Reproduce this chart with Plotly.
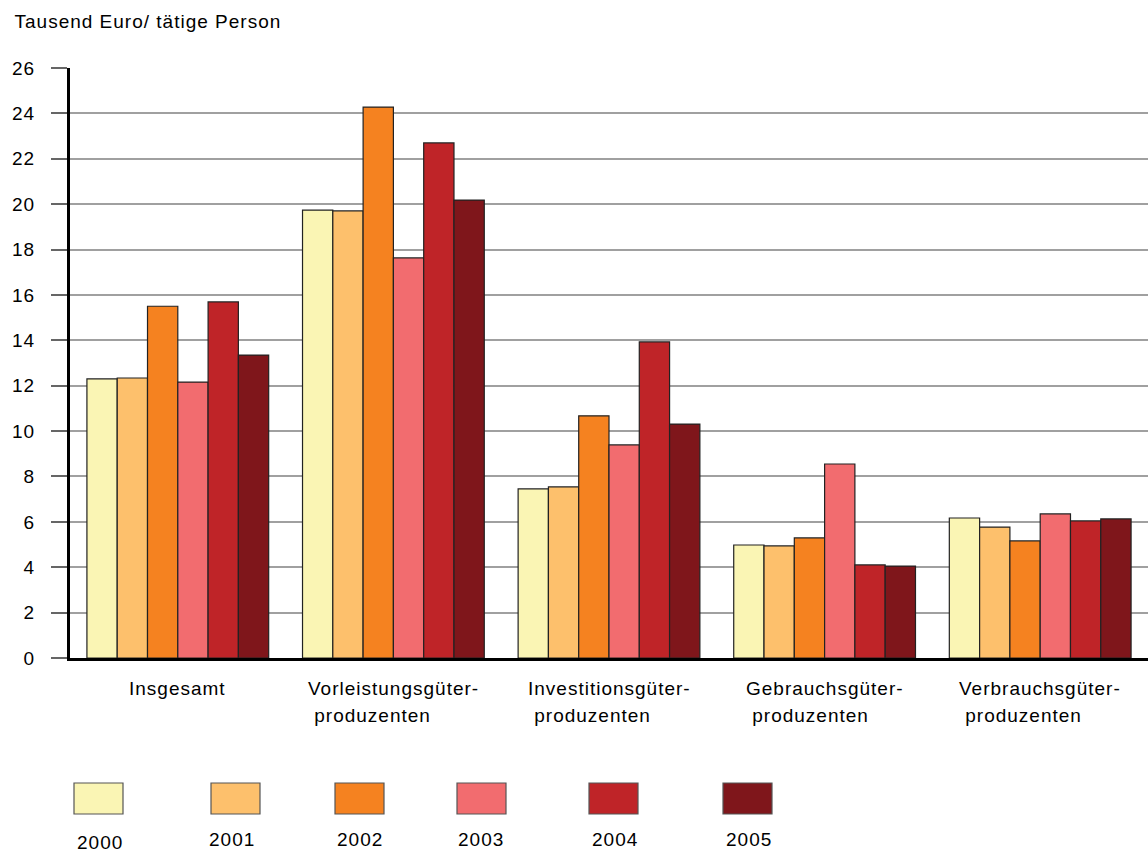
import plotly.graph_objects as go

categories = ["Insgesamt", "Vorleistungsgüter-<br>produzenten", "Investitionsgüter-<br>produzenten",
              "Gebrauchsgüter-<br>produzenten", "Verbrauchsgüter-<br>produzenten"]
years = ["2000", "2001", "2002", "2003", "2004", "2005"]
v2000 = [12.3, 19.74, 7.45, 4.98, 6.17]
v2001 = [12.34, 19.7, 7.54, 4.94, 5.77]
v2002 = [15.5, 24.28, 10.67, 5.29, 5.16]
v2003 = [12.16, 17.63, 9.39, 8.55, 6.35]
v2004 = [15.69, 22.7, 13.93, 4.1, 6.04]
v2005 = [13.35, 20.18, 10.31, 4.05, 6.13]
series = [v2000, v2001, v2002, v2003, v2004, v2005]
colors = ["#FAF5B4", "#FDC06C", "#F58220", "#F26C6F", "#BF2428", "#7F161B"]
y_ticks = list(range(0, 27, 2))

FONT = "Liberation Sans, Arial, sans-serif"
W, H = 1148, 852
ML, MT, MB = 70, 68, 194
PW, PH = W - ML, H - MT - MB
LS = 1  # letter spacing (px) applied via CSS


def px_x(x):
    return (x - ML) / PW


def px_y(y):
    return (H - MB - y) / PH


fig = go.Figure()
for yr, vals, col in zip(years, series, colors):
    fig.add_trace(go.Bar(x=categories, y=vals, name=yr, marker_color=col,
                         marker_line_color="#222222", marker_line_width=1.2))

fig.update_layout(
    width=W, height=H,
    margin=dict(l=ML, r=0, t=MT, b=MB),
    plot_bgcolor="white", paper_bgcolor="white",
    barmode="group", bargap=0.157, bargroupgap=0,
    showlegend=False,
    font=dict(family=FONT, size=19, color="black"),
)
fig.update_yaxes(range=[0, 26], tickvals=y_ticks, showgrid=True, gridcolor="#a0a0a0", gridwidth=1.5,
                 showline=True, linecolor="black", linewidth=3,
                 ticks="outside", ticklen=16, tickcolor="#666666", tickwidth=1.5,
                 ticklabelstandoff=12, tickfont=dict(size=19), zeroline=False)
fig.update_xaxes(showline=True, linecolor="black", linewidth=3, ticks="", showticklabels=False,
                 range=[-0.5, 4.5])

# category labels (two lines, left aligned block, line spacing ~27px)
for cat in categories:
    parts = cat.split("<br>")
    txt = "<br>".join(
        "<span style='font-size:19px'>" + ("\u00a0" if i > 0 else "") + p + "</span>"
        for i, p in enumerate(parts))
    fig.add_annotation(text=txt, xref="x", yref="paper", x=cat, y=px_y(676),
                       xanchor="center", yanchor="top", align="left", showarrow=False,
                       xshift=-LS * len(parts[0]) / 2, font=dict(size=20.8))

title = "Tausend Euro/ tätige Person"
fig.add_annotation(text=title, xref="paper", yref="paper",
                   x=px_x(12), y=px_y(22), xanchor="left", yanchor="middle",
                   xshift=LS * len(title) / 2, showarrow=False, font=dict(size=19))

# legend built as boxes with labels beneath
box_x0 = [74, 211, 335, 457, 589, 723]
label_cx = [100, 232, 360, 481, 615, 749]
label_cy = [842, 839, 839, 839, 839, 839]
for yr, col, bx, lx, ly in zip(years, colors, box_x0, label_cx, label_cy):
    fig.add_shape(type="rect", xref="paper", yref="paper",
                  x0=px_x(bx), x1=px_x(bx + 49),
                  y0=px_y(814), y1=px_y(783),
                  fillcolor=col, line=dict(color="#555555", width=1.2))
    fig.add_annotation(text=yr, xref="paper", yref="paper",
                       x=px_x(lx), y=px_y(ly),
                       xanchor="center", yanchor="middle", showarrow=False, font=dict(size=19))

post = """
var s=document.createElement('style');
s.innerHTML='html,body{margin:0 !important;padding:0 !important;overflow:hidden;} .main-svg text{letter-spacing:1px;}';
document.head.appendChild(s);
"""
fig.write_html("out.html", post_script=post, config={"displayModeBar": False})
